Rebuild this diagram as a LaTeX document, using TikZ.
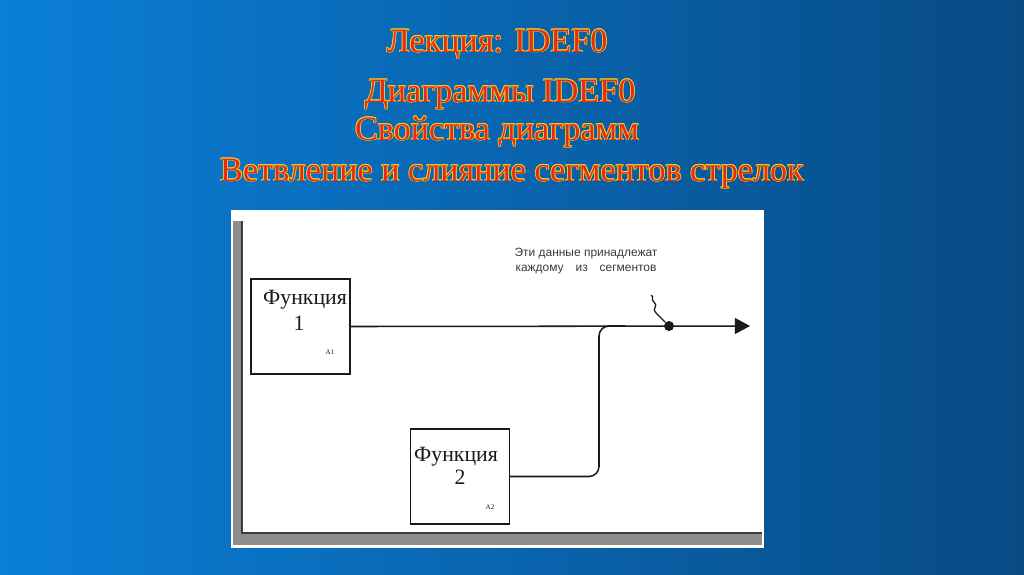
\documentclass[tikz,border=0pt]{standalone}
\usepackage{fontspec}
\setmainfont{Liberation Serif}
\newfontfamily\notefont{Liberation Sans}
\usetikzlibrary{arrows.meta,positioning}
\definecolor{bgleft}{HTML}{0A7FD8}
\definecolor{bgright}{HTML}{084A84}
\definecolor{titlered}{HTML}{E52A1C}
\definecolor{titleedge}{HTML}{F0D020}
\definecolor{shadowgray}{HTML}{8C8C8C}
\definecolor{shadowline}{HTML}{3C3C3C}
\definecolor{ink}{HTML}{1A1A1A}
\definecolor{notegray}{HTML}{3A3A3A}

% yellow rim behind red title letters
\newcommand\edgeoff[3]{\makebox[0pt][l]{\hspace*{#1}\raisebox{#2}{\color{titleedge}#3}}}
\newcommand\glowtext[1]{%
  \edgeoff{0.55pt}{0pt}{#1}\edgeoff{-0.55pt}{0pt}{#1}%
  \edgeoff{0pt}{0.55pt}{#1}\edgeoff{0pt}{-0.55pt}{#1}%
  \edgeoff{0.4pt}{0.4pt}{#1}\edgeoff{-0.4pt}{0.4pt}{#1}%
  \edgeoff{0.4pt}{-0.4pt}{#1}\edgeoff{-0.4pt}{-0.4pt}{#1}%
  {\color{titlered}#1}}

\begin{document}
\begin{tikzpicture}[
  x=0.025cm, y=-0.025cm,
  title/.style={font=\fontsize{24.3}{28}\selectfont, inner sep=0pt, anchor=base},
  funcbox/.style={
    draw=ink,
    line width=1.1pt,
    minimum width=2.47cm,
    minimum height=2.37cm,
    inner sep=0pt,
    fill=white
  },
  funclabel/.style={font=\fontsize{15.5}{16}\selectfont, text=ink, inner sep=0pt, anchor=base},
  refcode/.style={font=\fontsize{5}{6}\selectfont, text=ink, inner sep=0pt},
  wire/.style={draw=ink, line width=1.1pt},
  outarrow/.style={wire, -{Triangle[length=0.38cm, width=0.4cm]}},
  tapdot/.style={circle, fill=ink, inner sep=0pt, minimum size=0.25cm},
  note/.style={font=\notefont\fontsize{8.5}{10.5}\selectfont, text=notegray, align=center, inner sep=0pt}
]
\useasboundingbox (0,0) rectangle (1024,574);

% Slide background
\shade[left color=bgleft, right color=bgright] (0,0) rectangle (1024,574);

% Titles
\node[title] (title1) at (497,52) {\glowtext{Лекция: IDEF0}};
\node[title] (title2) at (500,102) {\glowtext{Диаграммы IDEF0}};
\node[title] (title3) at (497,140) {\glowtext{Свойства диаграмм}};
\node[title] (title4) at (512,181) {\glowtext{Ветвление и слияние сегментов стрелок}};

% Diagram sheet with its shadow edge
\fill[white] (231,210) rectangle (764,548);
\fill[shadowgray] (233,221) rectangle (242,545);
\fill[shadowgray] (233,533) rectangle (762,545);
\draw[shadowline, line width=1.2pt] (242,221) -- (242,533) -- (762,533);

% Function blocks
\node[funcbox] (func1) at (300.5,326.5) {};
\node[funcbox] (func2) at (460,476.5) {};

\node[funclabel] (func1name) at (305,304) {Функция};
\node[funclabel] (func1num) at (299,330) {1};
\node[refcode] (func1code) at (330,352) {A1};
\node[funclabel] (func2name) at (456,461) {Функция};
\node[funclabel] (func2num) at (460,484) {2};
\node[refcode] (func2code) at (490,507) {A2};

% Arrow segments and their join
\coordinate (bend) at (599,326);
\coordinate (joinpt) at (625,326);
\coordinate (outtip) at (750,326);
\node[tapdot] (tap) at (669,326) {};

\draw[outarrow] (func1.east) -- (outtip);
\draw[wire, rounded corners=0.25cm] (func2.east) -| (bend) -- (joinpt);

% Squiggle to the note
\coordinate (squigtop) at (651,295);
\draw[wire, line width=0.9pt] (tap) -- (656,313)
  .. controls (651,309) and (659,306) .. (654,302)
  .. controls (650,299) and (655,297) .. (squigtop);
\node[note] (datanote) at (586,261) {Эти данные принадлежат\\каждому\quad из\quad сегментов};

\end{tikzpicture}
\end{document}
